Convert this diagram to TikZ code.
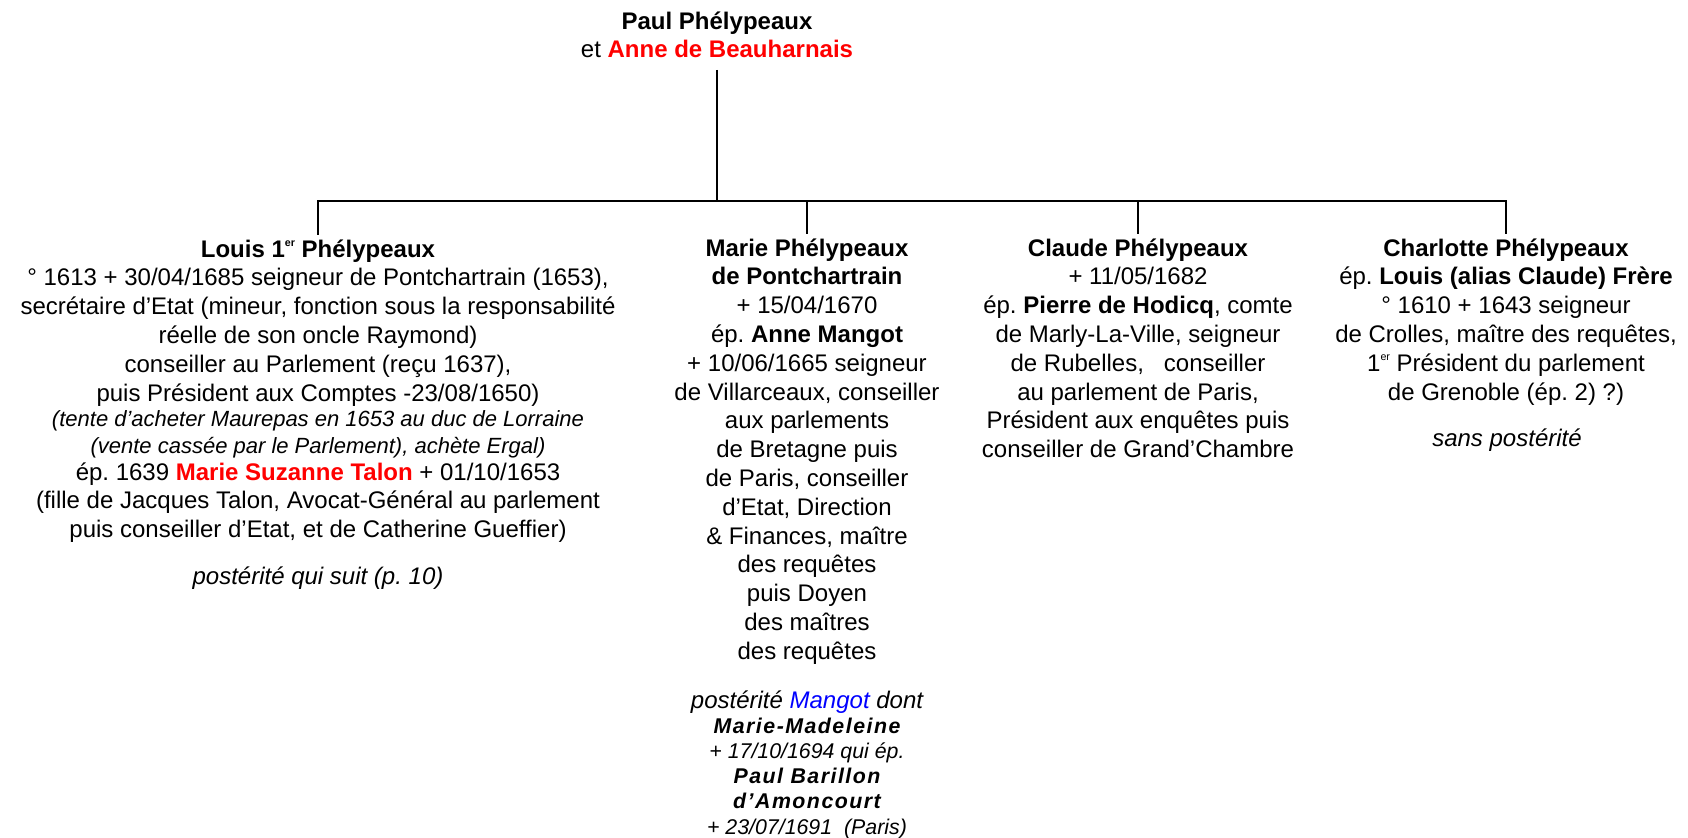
\documentclass[tikz,border=0pt]{standalone}
\usepackage{fontspec}
\setmainfont{Liberation Sans}
\frenchspacing
\newcommand{\tallstrut}{\rule{0pt}{16pt}}
\newcommand{\asidefont}{\fontsize{16.5}{19.8}\selectfont\itshape}
\newcommand{\ordsup}[1]{\raisebox{8.3pt}{\fontsize{8}{8}\selectfont #1}}
\newcommand{\spacedname}[1]{{\bfseries\itshape\addfontfeatures{LetterSpace=7}#1}}
\tikzset{every picture/.style={line width=1.7pt}}
\tikzset{
  person/.style={anchor=north, align=center, inner sep=0pt, font=\fontsize{18}{21.6}\selectfont},
  note/.style={anchor=base, inner sep=0pt, font=\fontsize{18}{21.6}\selectfont\itshape}
}
\begin{document}
\begin{tikzpicture}[x=0.75pt,y=0.75pt,yscale=-1,xscale=1]
\useasboundingbox (0,0) rectangle (1688,838);

% Text Node
\node[person] (parents) at (717,6.67) {\tallstrut\textbf{Paul Phélypeaux}\\
  et \textcolor{red}{\textbf{Anne de Beauharnais}}};
% Text Node
\node[person] (louis) at (318,234.67) {\tallstrut\textbf{Louis 1\ordsup{er} Phélypeaux}\\
  ° 1613 + 30/04/1685 seigneur de Pontchartrain (1653),\\
  secrétaire d’Etat (mineur, fonction sous la responsabilité\\
  réelle de son oncle Raymond)\\
  conseiller au Parlement (reçu 1637),\\
  puis Président aux Comptes -23/08/1650)\\[-2.85pt]
  {\asidefont (tente d’acheter Maurepas en 1653 au duc de Lorraine}\\[-1.35pt]
  {\asidefont (vente cassée par le Parlement), achète Ergal)}\\[-1.35pt]
  ép. 1639 \textcolor{red}{\textbf{Marie Suzanne Talon}} + 01/10/1653\\
  (fille de Jacques Talon, Avocat-Général au parlement\\
  puis conseiller d’Etat, et de Catherine Gueffier)};
% Text Node
\node[note] (louispost) at (318,584) {postérité qui suit (p. 10)};
% Text Node
\node[person] (marie) at (807,233.67) {\tallstrut\textbf{Marie Phélypeaux}\\
  \textbf{de Pontchartrain}\\
  + 15/04/1670\\
  ép. \textbf{Anne Mangot}\\
  + 10/06/1665 seigneur\\
  de Villarceaux, conseiller\\
  aux parlements\\
  de Bretagne puis\\
  de Paris, conseiller\\
  d’Etat, Direction\\
  \& Finances, maître\\
  des requêtes\\
  puis Doyen\\
  des maîtres\\
  des requêtes};
% Text Node
\node[person, font=\fontsize{16}{18.9}\selectfont\itshape] (mariepost) at (807,685.67) {\tallstrut{\fontsize{18}{21.6}\selectfont postérité \textcolor{blue}{Mangot} dont}\\
  \spacedname{Marie-Madeleine}\\
  + 17/10/1694 qui ép.\\
  \spacedname{Paul Barillon}\\
  \spacedname{d’Amoncourt}\\
  + 23/07/1691\ \ (Paris)};
% Text Node
\node[person] (claude) at (1138,233.67) {\tallstrut\textbf{Claude Phélypeaux}\\
  + 11/05/1682\\
  ép. \textbf{Pierre de Hodicq}, comte\\
  de Marly-La-Ville, seigneur\\
  de Rubelles,\ \ \ conseiller\\
  au parlement de Paris,\\
  Président aux enquêtes puis\\
  conseiller de Grand’Chambre};
% Text Node
\node[person] (charlotte) at (1506,233.67) {\tallstrut\textbf{Charlotte Phélypeaux}\\
  ép. \textbf{Louis (alias Claude) Frère}\\
  ° 1610 + 1643 seigneur\\
  de Crolles, maître des requêtes,\\
  1\ordsup{er} Président du parlement\\
  de Grenoble (ép. 2) ?)};
% Text Node
\node[note] (charlottepost) at (1507,446) {sans postérité};

\coordinate (bus) at (717,201);
%Straight Lines
\draw[shorten <=8pt] (parents.south) -- (bus);
%Straight Lines
\draw (louis.north) -- (louis.north |- bus) -- (charlotte.north |- bus) -- (charlotte.north);
%Straight Lines
\draw (marie.north |- bus) -- (marie.north);
%Straight Lines
\draw (claude.north |- bus) -- (claude.north);
\end{tikzpicture}
\end{document}
